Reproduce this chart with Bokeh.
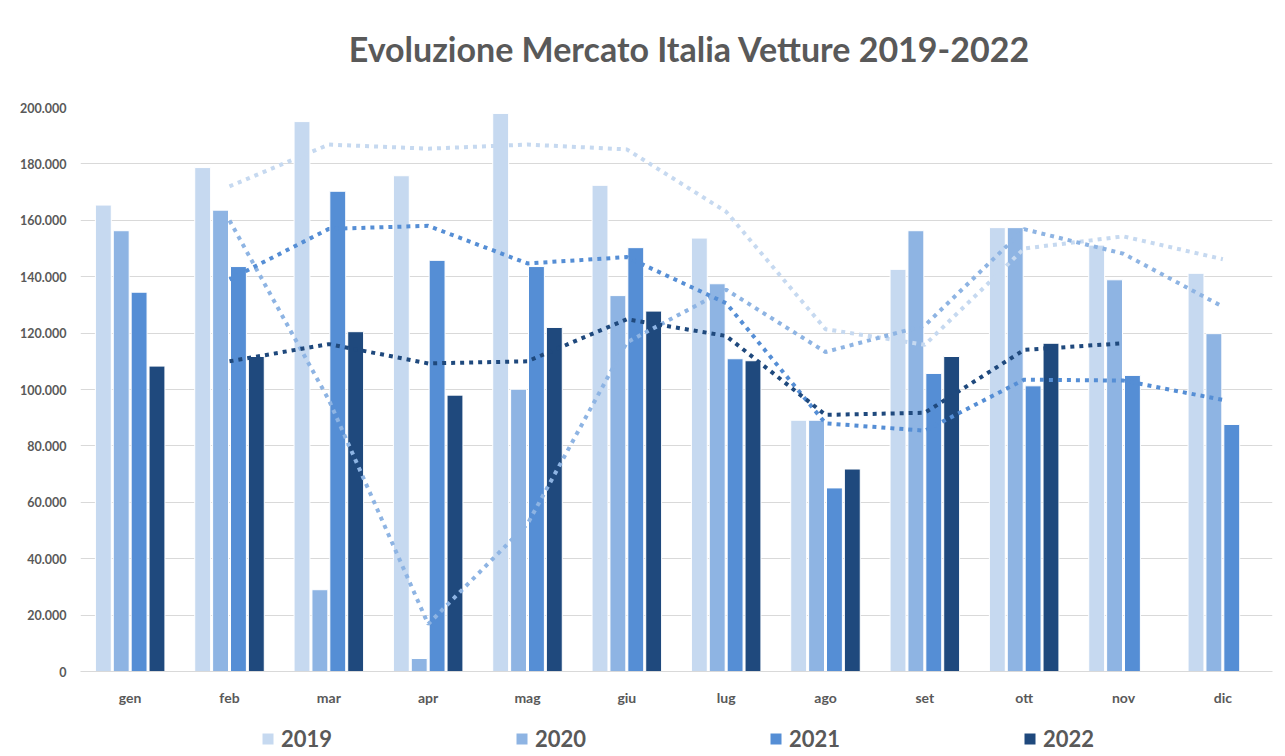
import numpy as np
from bokeh.plotting import figure
from bokeh.layouts import column
from bokeh.models import (ColumnDataSource, FactorRange, FixedTicker, Legend, LegendItem, Label)
from bokeh.transform import dodge
from bokeh.embed import file_html
from bokeh.resources import INLINE

months = ["gen", "feb", "mar", "apr", "mag", "giu", "lug", "ago", "set", "ott", "nov", "dic"]
years = ["2019", "2020", "2021", "2022"]
v2019 = [165400, 178700, 195000, 175800, 197900, 172400, 153700, 89100, 142600, 157400, 151200, 141200]
v2020 = [156300, 163600, 29000, 4600, 100100, 133300, 137500, 89100, 156300, 157400, 138900, 119800]
v2021 = [134500, 143600, 170300, 145800, 143600, 150300, 110900, 65100, 105700, 101300, 105000, 87600]
v2022 = [108300, 111700, 120500, 98000, 122000, 127800, 110200, 71800, 111700, 116400, None, None]
y_ticks = [0, 20000, 40000, 60000, 80000, 100000, 120000, 140000, 160000, 180000, 200000]
y_tick_labels = ["0", "20.000", "40.000", "60.000", "80.000", "100.000", "120.000",
                 "140.000", "160.000", "180.000", "200.000"]
title_text = "Evoluzione Mercato Italia Vetture 2019-2022"

colors = ["#C6D9F0", "#8EB4E3", "#558ED5", "#1F497D"]
series = [v2019, v2020, v2021, v2022]
offsets = [-0.27, -0.09, 0.09, 0.27]
TXT = "#595959"
FONT = "Lato"

def to_arr(vals):
    return np.array([np.nan if v is None else float(v) for v in vals])

data = {"month": months}
for y, s in zip(years, series):
    data["y" + y] = to_arr(s)
src = ColumnDataSource(data)

W = 1280
TH = 80  # title strip height

# ---- title strip ----
pt = figure(width=W, height=TH, output_backend="svg", toolbar_location=None,
            x_axis_type=None, y_axis_type=None, x_range=(0, W), y_range=(0, TH),
            min_border=0)
pt.outline_line_color = None
pt.xgrid.visible = False
pt.ygrid.visible = False
pt.add_layout(Label(x=654, y=TH - 48, text=title_text, text_align="center",
                    text_baseline="middle", text_font=FONT, text_font_style="bold",
                    text_font_size="34px", text_color=TXT))

# ---- main chart ----
p = figure(x_range=FactorRange(*months, range_padding=0), y_range=(0, 200000),
           width=W, height=708 - TH, output_backend="svg", toolbar_location=None,
           min_border_left=80, min_border_right=8, min_border_top=107 - TH,
           min_border_bottom=31)
p.outline_line_color = None
p.background_fill_color = "white"
p.border_fill_color = "white"

for y, c, off in zip(years, colors, offsets):
    p.vbar(x=dodge("month", off, range=p.x_range), top="y" + y, width=0.16,
           source=src, fill_color=c, line_color="white", line_width=1)

# 2-period moving average trendlines (as in the original Excel chart)
for y, c in zip(years, colors):
    arr = data["y" + y]
    ma = []
    xs = []
    for i in range(1, len(months)):
        pair = arr[i - 1:i + 1]
        if np.all(np.isnan(pair)):
            continue
        ma.append(float(np.nanmean(pair)))
        xs.append(months[i])
    p.line(xs, ma, line_color=c, line_width=4, line_dash="4 5")

# axes
p.xgrid.grid_line_color = None
p.ygrid.grid_line_color = "#D9D9D9"
p.ygrid.grid_line_width = 1
p.yaxis.ticker = FixedTicker(ticks=y_ticks)
p.yaxis.major_label_overrides = {t: l for t, l in zip(y_ticks, y_tick_labels)}
p.yaxis.axis_line_color = None
p.yaxis.major_tick_line_color = None
p.yaxis.minor_tick_line_color = None
p.yaxis.major_label_standoff = 8
p.yaxis.major_label_text_font = FONT
p.yaxis.major_label_text_font_style = "bold"
p.yaxis.major_label_text_font_size = "12.5px"
p.yaxis.major_label_text_color = TXT

p.xaxis.axis_line_color = "#D9D9D9"
p.xaxis.major_tick_line_color = None
p.xaxis.minor_tick_line_color = None
p.xaxis.major_label_standoff = 11
p.xaxis.major_label_text_font = FONT
p.xaxis.major_label_text_font_style = "bold"
p.xaxis.major_label_text_font_size = "14px"
p.xaxis.major_label_text_color = TXT

# ---- legend strip (separate small figure so the legend is not clipped) ----
pl = figure(width=W, height=44, output_backend="svg", toolbar_location=None,
            x_axis_type=None, y_axis_type=None, x_range=(0, 1), y_range=(0, 1),
            min_border=0)
pl.outline_line_color = None
pl.xgrid.visible = False
pl.ygrid.visible = False
leg_renderers = []
for c in colors:
    # legend swatch carriers, placed outside the visible range
    leg_renderers.append(pl.vbar(x=[-5], top=[-5], width=0.1, fill_color=c,
                                 line_color="white", line_width=1))
items = [LegendItem(label=y, renderers=[r]) for y, r in zip(years, leg_renderers)]
legend = Legend(items=items, orientation="horizontal", location=(180, 0),
                padding=0, margin=0, spacing=33, label_width=200, label_standoff=6,
                glyph_width=15, glyph_height=15, border_line_color=None,
                background_fill_alpha=0, label_text_font=FONT,
                label_text_font_style="bold", label_text_font_size="22px",
                label_text_color=TXT)
pl.add_layout(legend, "center")

layout = column(pt, p, pl, spacing=0)
open("out.html", "w").write(file_html(layout, INLINE))
